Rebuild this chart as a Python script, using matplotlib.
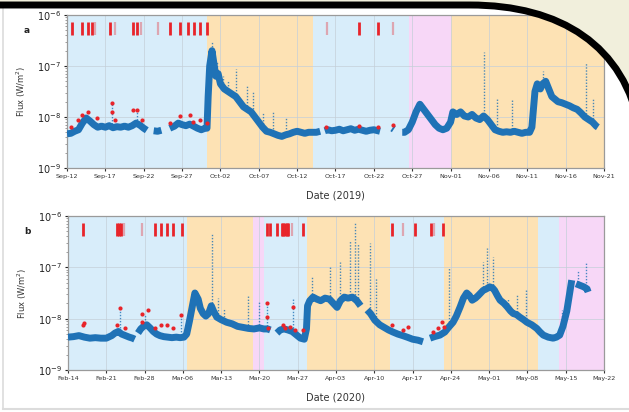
import numpy as np
import pandas as pd
import matplotlib
matplotlib.use("Agg")
import matplotlib.pyplot as plt
import matplotlib.dates as mdates
from matplotlib.path import Path
from matplotlib.patches import PathPatch

nan = np.nan

# ---- panel a (2019) : days since Sep-12, log10 flux ----
A_START = "2019-09-12"
A_END = "2019-11-21"
A_DAYS = [0.0, 0.5, 1.0, 1.5, 2.0, 2.5, 3.0, 3.5, 4.0, 4.5, 5.0, 5.5, 6.0, 6.5, 7.0, 7.5, 8.0, 8.5,
          9.0, 9.5, 10.0, 10.4, 10.8, 11.3, 11.8, 12.3, 12.8, 13.4, 14.0, 14.5, 15.0, 15.5, 16.0,
          16.5, 17.0, 17.5, 18.0, 18.25, 18.4, 18.6, 18.9, 19.1, 19.4, 19.7, 20.0, 20.5, 21.0,
          21.5, 22.0, 22.5, 23.0, 23.5, 24.0, 24.5, 25.0, 25.5, 26.0, 26.5, 27.0, 27.5, 28.0,
          28.5, 29.0, 29.5, 30.0, 30.5, 31.0, 31.5, 32.0, 32.5, 33.0, 33.3, 33.6, 34.0, 34.5,
          35.0, 35.5, 36.0, 36.5, 37.0, 37.5, 38.0, 38.5, 39.0, 39.5, 40.0, 40.5, 40.8, 41.5,
          42.4, 42.6, 43.1, 43.7, 44.0, 44.5, 45.0, 45.5, 46.0, 46.5, 47.0, 47.5, 48.0, 48.5,
          49.0, 49.5, 50.0, 50.3, 50.8, 51.3, 51.8, 52.3, 52.8, 53.3, 53.8, 54.3, 54.8, 55.3,
          55.8, 56.3, 56.8, 57.3, 57.8, 58.3, 58.8, 59.3, 59.8, 60.3, 60.6, 60.8, 61.0, 61.3,
          61.7, 62.0, 62.4, 62.8, 63.2, 63.6, 64.0, 64.5, 65.0, 65.5, 66.0, 66.5, 67.0, 67.5,
          68.0, 68.5, 69.0, 69.2]
A_LOGFLUX = [-8.33, -8.32, -8.28, -8.25, -8.12, -8.02, -8.08, -8.15, -8.20, -8.18, -8.20, -8.17,
             -8.21, -8.19, -8.20, -8.18, -8.20, -8.17, -8.12, -8.16, -8.22, -8.26, nan, -8.27,
             -8.28, -8.26, nan, -8.22, -8.18, -8.12, -8.15, -8.17, -8.14, -8.18, -8.22, -8.25,
             -8.22, -8.22, -7.6, -7.0, -6.7, -6.9, -7.2, -7.15, -7.35, -7.45, -7.5, -7.55, -7.6,
             -7.7, -7.8, -7.85, -7.9, -8.0, -8.1, -8.2, -8.28, -8.3, -8.33, -8.36, -8.38, -8.35,
             -8.33, -8.3, -8.28, -8.3, -8.32, -8.3, -8.3, -8.3, -8.28, nan, -8.27, -8.25, -8.27,
             -8.26, -8.24, -8.27, -8.25, -8.23, -8.26, -8.24, -8.26, -8.28, -8.26, -8.25, -8.27,
             -8.28, nan, -8.22, -8.24, nan, -8.3, -8.3, -8.25, -8.1, -7.9, -7.75, -7.85, -7.95,
             -8.05, -8.15, -8.22, -8.25, -8.22, -8.1, -7.9, -7.95, -7.9, -7.98, -8.0, -7.95,
             -8.02, -8.05, -7.98, -8.05, -8.15, -8.25, -8.28, -8.3, -8.29, -8.3, -8.28, -8.3,
             -8.32, -8.3, -8.3, -8.2, -7.85, -7.5, -7.35, -7.45, -7.35, -7.3, -7.45, -7.6, -7.65,
             -7.7, -7.72, -7.75, -7.78, -7.82, -7.85, -7.92, -8.0, -8.05, -8.1, -8.18, -8.2]
A_SPIKE_DAYS = [5.9, 9.1, 18.9, 19.5, 20.3, 21.0, 22.0, 23.4, 24.3, 25.6, 26.8, 28.5, 54.4, 56.1,
                58.0, 62.0, 67.6, 68.6]
A_SPIKE_TOP = [-7.73, -7.86, -6.5, -6.9, -7.2, -7.3, -7.05, -7.4, -7.5, -7.9, -7.9, -8.0, -6.73,
               -7.65, -7.65, -7.1, -6.94, -7.65]
A_SPIKE_BASE = [-8.2, -8.18, -6.8, -7.2, -7.4, -7.5, -7.6, -7.85, -7.9, -8.2, -8.3, -8.35, -8.0,
                -8.28, -8.3, -7.35, -7.95, -8.1]
A_RED_DAYS = [0.5, 1.4, 2.0, 2.7, 3.9, 5.9, 5.9, 6.3, 8.6, 9.1, 9.8, 13.4, 14.7, 16.0, 16.4, 17.3,
              18.2, 33.8, 38.0, 40.5, 42.5]
A_RED_LOG = [-8.2, -8.06, -7.96, -7.9, -8.02, -7.73, -7.9, -8.06, -7.86, -7.86, -8.06, -8.12,
             -7.98, -7.96, -8.1, -8.06, -8.12, -8.2, -8.18, -8.2, -8.15]
A_EVENT_DAYS = [0.6, 1.9, 2.8, 3.2, 3.7, 5.6, 6.3, 8.6, 9.1, 9.7, 11.9, 13.4, 14.7, 15.8, 16.5,
                17.3, 18.2, 33.9, 38.0, 40.5, 42.5]
A_EVENT_STRONG = [1, 1, 1, 1, 0, 1, 0, 1, 1, 0, 0, 1, 1, 1, 1, 1, 1, 0, 1, 1, 0]
A_SPANS = [("2019-09-12 00:00", "2019-09-30 06:00", "blue"),
           ("2019-09-30 06:00", "2019-10-14 02:00", "orange"),
           ("2019-10-14 02:00", "2019-10-26 14:00", "blue"),
           ("2019-10-26 14:00", "2019-11-01 00:00", "pink"),
           ("2019-11-01 00:00", "2019-11-21 00:00", "orange")]

# ---- panel b (2020) : days since Feb-14 ----
B_START = "2020-02-14"
B_END = "2020-05-22"
B_DAYS = [0, 1, 2, 3, 4, 5, 6, 7, 8, 8.6, 9.2, 9.8, 10.5, 11.2, 11.8, 12.2, 12.5, 12.8, 13.3,
          13.9, 14.4, 15.0, 15.6, 16.2, 16.8, 17.5, 18.2, 19.0, 19.8, 20.5, 21.2, 21.7, 22.2,
          22.6, 23.2, 23.8, 24.2, 24.7, 25.2, 25.7, 26.2, 26.6, 27.2, 28.0, 29.0, 30.0, 31.0,
          32.0, 33.0, 34.0, 35.0, 35.8, 36.5, 37.0, 37.5, 38.2, 38.8, 39.5, 40.2, 41.0, 41.8,
          42.5, 43.2, 43.6, 43.8, 44.2, 44.8, 45.5, 46.2, 47.0, 47.8, 48.5, 49.2, 49.8, 50.5,
          51.2, 52.0, 52.8, 53.5, 54.0, 54.7, 55.3, 56.1, 57.0, 57.8, 58.6, 59.4, 60.3, 61.2,
          62.0, 63.0, 64.0, 64.9, 65.5, 66.2, 67.0, 68.0, 68.9, 69.5, 70.4, 71.0, 71.7, 72.3,
          72.9, 73.4, 73.9, 74.5, 75.0, 75.9, 76.5, 77.1, 77.6, 78.0, 78.5, 79.0, 79.7, 80.3,
          80.9, 81.4, 82.0, 82.6, 83.3, 83.9, 84.8, 85.7, 86.3, 86.9, 87.8, 88.7, 89.3, 89.9,
          90.5, 91.2, 91.8, 92.1, 92.5, 92.9, 93.6, 94.3, 94.9, 95.1]
B_LOGFLUX = [-8.36, -8.35, -8.33, -8.36, -8.38, -8.37, -8.38, -8.38, -8.33, -8.28, -8.25, -8.3,
             -8.33, -8.36, -8.38, -8.4, nan, -8.28, -8.2, -8.14, -8.12, -8.18, -8.25, -8.3,
             -8.33, -8.35, -8.36, -8.37, -8.36, -8.37, -8.36, -8.3, -8.05, -7.83, -7.5, -7.62,
             -7.8, -7.9, -7.95, -7.9, -7.75, -7.85, -7.97, -8.02, -8.07, -8.1, -8.15, -8.17,
             -8.19, -8.2, -8.18, -8.2, -8.2, -8.22, nan, -8.28, -8.22, -8.2, -8.22, -8.25, -8.32,
             -8.38, -8.4, -8.2, -7.75, -7.65, -7.58, -7.62, -7.65, -7.6, -7.62, -7.7, -7.78,
             -7.65, -7.58, -7.6, -7.58, -7.65, -7.75, nan, -7.83, -7.9, -8.03, -8.12, -8.17,
             -8.22, -8.26, -8.3, -8.33, -8.36, -8.4, -8.42, -8.45, nan, -8.38, -8.35, -8.32,
             -8.26, -8.18, -8.07, -7.95, -7.77, -7.6, -7.5, -7.55, -7.64, -7.6, -7.55, -7.45,
             -7.42, -7.38, -7.4, -7.45, -7.55, -7.64, -7.7, -7.77, -7.85, -7.9, -7.92, -7.97,
             -8.02, -8.07, -8.12, -8.19, -8.26, -8.32, -8.36, -8.38, -8.36, -8.32, -8.15, -7.85,
             -7.45, -7.25, nan, -7.32, -7.35, -7.38, -7.42, -7.48]
B_SPIKE_DAYS = [9.5, 14.0, 20.7, 26.3, 27.5, 28.5, 33.0, 35.0, 36.3, 41.2, 44.6, 47.9, 49.7,
                51.6, 52.5, 53.0, 55.2, 56.4, 69.7, 75.9, 76.6, 77.7, 80.4, 82.1, 83.7, 90.4,
                93.2, 94.7]
B_SPIKE_TOP = [-7.8, -7.9, -7.9, -6.34, -7.6, -7.8, -7.54, -7.67, -7.7, -7.6, -7.18, -7.0,
               -6.9, -6.47, -6.14, -6.53, -6.53, -7.2, -7.01, -6.9, -6.63, -6.8, -7.6, -7.54,
               -7.44, -7.83, -7.05, -6.9]
B_SPIKE_BASE = [-8.25, -8.14, -8.37, -7.75, -7.97, -8.02, -8.19, -8.18, -8.2, -8.25, -7.58,
                -7.62, -7.7, -7.6, -7.6, -7.65, -7.9, -8.03, -8.18, -7.45, -7.42, -7.4, -7.77,
                -7.92, -8.07, -8.15, -7.35, -7.42]
B_RED_DAYS = [2.7, 3.0, 9.0, 9.5, 10.4, 13.5, 13.5, 14.6, 15.9, 17.0, 18.1, 19.2, 20.7, 36.3,
              36.4, 36.6, 39.3, 39.6, 40.6, 41.2, 41.5, 43.0, 59.2, 61.2, 62.2, 66.7, 67.6,
              68.4, 68.7]
B_RED_LOG = [-8.12, -8.08, -8.12, -7.79, -8.19, -7.9, -8.07, -7.83, -8.19, -8.12, -8.12, -8.19,
             -7.93, -7.7, -7.97, -8.19, -8.12, -8.19, -8.16, -7.77, -8.22, -8.22, -8.12, -8.22,
             -8.16, -8.26, -8.19, -8.07, -8.16]
B_EVENT_DAYS = [2.8, 8.9, 9.3, 9.7, 10.2, 13.5, 15.9, 17.0, 18.1, 19.2, 20.8, 36.4, 37.0, 38.3,
                39.1, 39.4, 39.7, 40.0, 40.3, 40.9, 43.0, 59.2, 61.3, 63.4, 66.4, 66.9, 68.6]
B_EVENT_STRONG = [1, 1, 1, 1, 0, 0, 1, 1, 1, 1, 1, 1, 1, 1, 1, 1, 1, 1, 1, 0, 1, 1, 0, 1, 1, 0, 1]
B_SPANS = [("2020-02-14 00:00", "2020-03-06 18:00", "blue"),
           ("2020-03-06 18:00", "2020-03-18 19:00", "orange"),
           ("2020-03-18 19:00", "2020-03-20 19:00", "pink"),
           ("2020-03-20 19:00", "2020-03-28 17:00", "blue"),
           ("2020-03-28 17:00", "2020-04-12 22:00", "orange"),
           ("2020-04-12 22:00", "2020-04-22 17:00", "blue"),
           ("2020-04-22 17:00", "2020-05-09 22:00", "orange"),
           ("2020-05-09 22:00", "2020-05-13 19:00", "blue"),
           ("2020-05-13 19:00", "2020-05-22 00:00", "pink")]

Y_DECADES = [1e-9, 1e-8, 1e-7, 1e-6]

SPAN_COLORS = {"blue": "#d8edfa", "orange": "#fde2b4", "pink": "#f7d7f7"}
FLUX_BLUE = "#1f72b6"
EVENT_TOP, EVENT_BOTTOM = -6.14, -6.39

W, H = 629, 412


def to_dates(start, days):
    return pd.Timestamp(start) + pd.to_timedelta(np.asarray(days, dtype=float), unit="D")


def draw_panel(ax, start, end, tick_step, days, logflux, spike_days, spike_top, spike_base,
               red_days, red_log, event_days, event_strong, spans, year, letter):
    for s, e, c in spans:
        ax.axvspan(pd.Timestamp(s), pd.Timestamp(e), color=SPAN_COLORS[c], lw=0, zorder=0)

    ax.vlines(to_dates(start, spike_days), 10 ** np.array(spike_base), 10 ** np.array(spike_top),
              color=FLUX_BLUE, lw=1.0, linestyles=(0, (1, 1.2)), alpha=0.8, zorder=2)
    ax.plot(to_dates(start, days), 10 ** np.array(logflux), color=FLUX_BLUE, lw=5,
            solid_capstyle="butt", zorder=3)
    ax.scatter(to_dates(start, red_days), 10 ** np.array(red_log), s=9, color="#e8242a",
               lw=0, zorder=4)

    strong = np.array(event_strong) == 1
    ev = to_dates(start, event_days)
    ax.vlines(ev[strong], 10 ** EVENT_BOTTOM, 10 ** EVENT_TOP, color="#e8242a", lw=2.0, zorder=4)
    ax.vlines(ev[~strong], 10 ** EVENT_BOTTOM, 10 ** EVENT_TOP, color="#e8242a", lw=1.6,
              alpha=0.35, zorder=4)

    ax.set_yscale("log")
    ax.set_ylim(Y_DECADES[0], Y_DECADES[-1])
    ax.set_yticks(Y_DECADES)
    ax.set_xlim(pd.Timestamp(start), pd.Timestamp(end))
    ax.set_xticks(pd.date_range(start, end, freq=f"{tick_step}D"))
    ax.xaxis.set_major_formatter(mdates.DateFormatter("%b-%d"))
    ax.grid(True, which="major", color="#c4cfd8", lw=0.5)
    for sp in ax.spines.values():
        sp.set_color("#9a9a9a")
        sp.set_linewidth(0.9)
    ax.tick_params(axis="x", labelsize=4.6, length=2.5, width=0.8, pad=2, colors="#333333")
    ax.tick_params(axis="y", which="major", labelsize=7, length=2.5, width=0.8, pad=2,
                   colors="#222222")
    ax.tick_params(axis="y", which="minor", length=1.5, width=0.5, colors="#777777")
    ax.set_ylabel("Flux (W/m$^2$)", fontsize=6, color="#333333", labelpad=6)
    ax.set_xlabel(f"Date ({year})", fontsize=7, color="#333333", labelpad=8)
    ax.text(-0.075, 0.9, letter, transform=ax.transAxes, fontsize=6.5, fontweight="bold",
            color="#222222", ha="center", va="center")


fig = plt.figure(figsize=(W / 100, H / 100), dpi=100, facecolor="white")


def px(x, y):
    return (x / W, 1 - y / H)


# card border and decorative corner
fig.add_artist(plt.Line2D([px(3, 0)[0], px(3, 0)[0]], [px(0, 8)[1], px(0, 409)[1]],
                          transform=fig.transFigure, color="#dcdcdc", lw=1.2, zorder=10))
fig.add_artist(plt.Line2D([px(3, 0)[0], 1], [px(0, 409)[1], px(0, 409)[1]],
                          transform=fig.transFigure, color="#dcdcdc", lw=1.5, zorder=10))
curve = [(470, 5), (560, 5), (625, 45), (640, 130)]
cream_verts = [px(-5, -5), px(640, -5), px(640, 130), px(625, 45), px(560, 5), px(470, 5),
               px(-5, 5), px(-5, -5)]
cream_codes = [Path.MOVETO, Path.LINETO, Path.LINETO, Path.CURVE4, Path.CURVE4, Path.CURVE4,
               Path.LINETO, Path.CLOSEPOLY]
fig.add_artist(PathPatch(Path(cream_verts, cream_codes), transform=fig.transFigure,
                         facecolor="#f1efdc", edgecolor="none", zorder=10))
line_verts = [px(-5, 5), px(*curve[0]), px(*curve[1]), px(*curve[2]), px(*curve[3])]
line_codes = [Path.MOVETO, Path.LINETO, Path.CURVE4, Path.CURVE4, Path.CURVE4]
fig.add_artist(PathPatch(Path(line_verts, line_codes), transform=fig.transFigure,
                         facecolor="none", edgecolor="black", lw=5, zorder=10))

ax_a = fig.add_axes([67 / W, 1 - 168 / H, 537 / W, 153 / H])
ax_b = fig.add_axes([68 / W, 1 - 370 / H, 536 / W, 154 / H])

draw_panel(ax_a, A_START, A_END, 5, A_DAYS, A_LOGFLUX, A_SPIKE_DAYS, A_SPIKE_TOP, A_SPIKE_BASE,
           A_RED_DAYS, A_RED_LOG, A_EVENT_DAYS, A_EVENT_STRONG, A_SPANS, 2019, "a")
draw_panel(ax_b, B_START, B_END, 7, B_DAYS, B_LOGFLUX, B_SPIKE_DAYS, B_SPIKE_TOP, B_SPIKE_BASE,
           B_RED_DAYS, B_RED_LOG, B_EVENT_DAYS, B_EVENT_STRONG, B_SPANS, 2020, "b")

fig.savefig("out.png", dpi=100, facecolor="white")
